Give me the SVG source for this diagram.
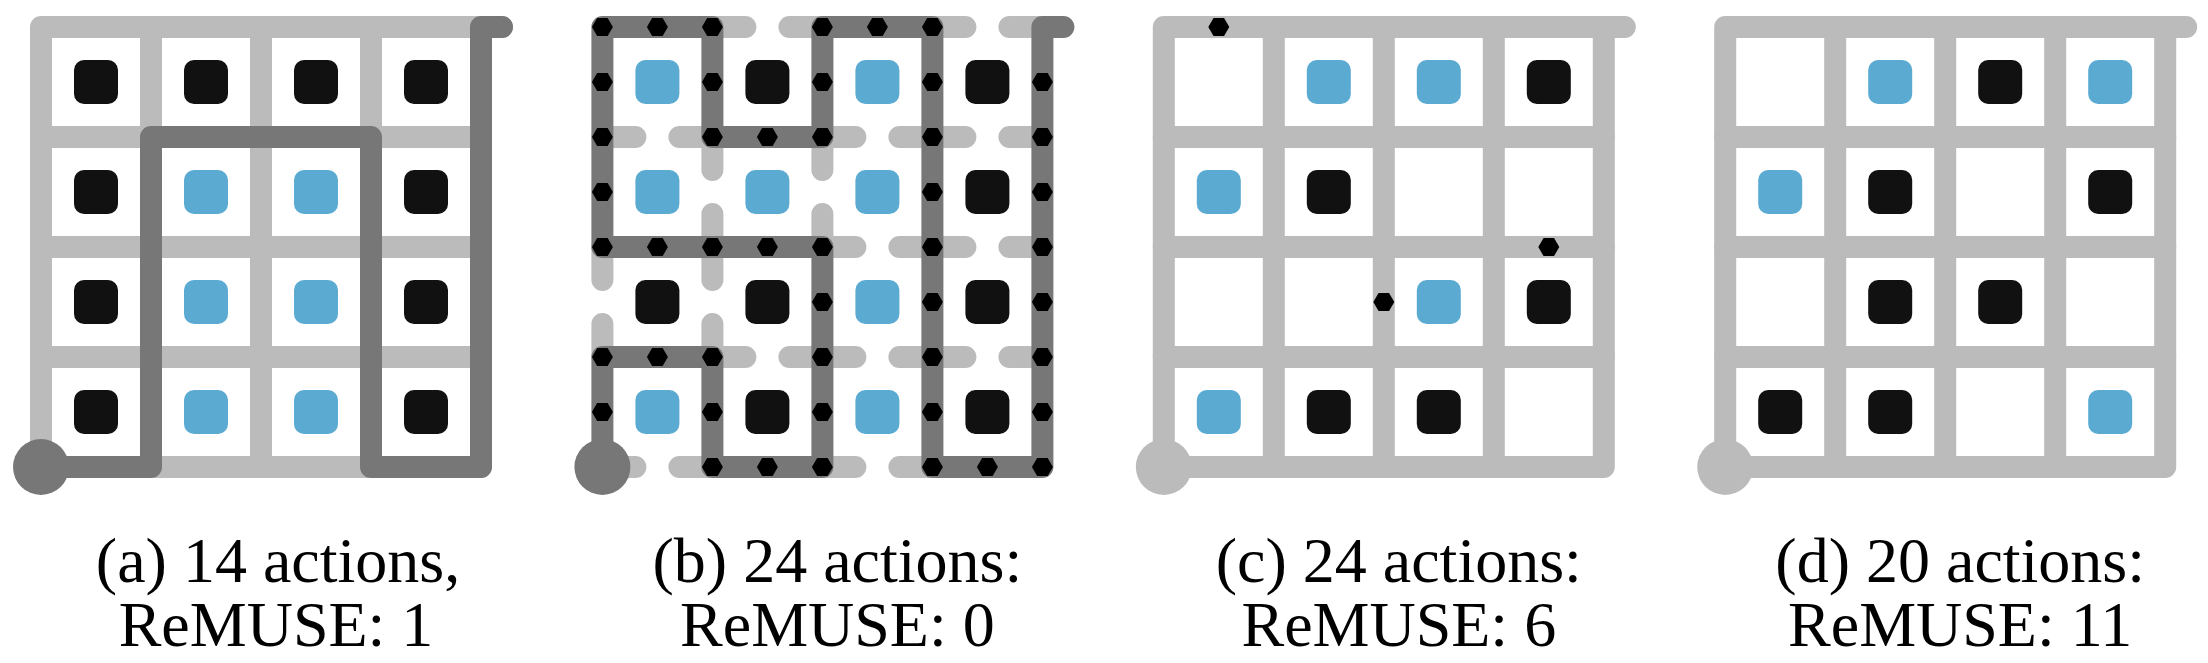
<svg xmlns="http://www.w3.org/2000/svg" xmlns:xlink="http://www.w3.org/1999/xlink" width="2208" height="663" viewBox="0 0 2208 663">
<style>
.grid{stroke:#bbbbbb;stroke-width:22;fill:none;stroke-linejoin:round;stroke-linecap:round}
.stub{stroke:#bbbbbb;stroke-width:22;fill:none;stroke-linecap:round}
.path{stroke:#777777;stroke-width:22;fill:none;stroke-linejoin:round;stroke-linecap:round}
.b{fill:#111111}
.l{fill:#5baad2}
.hex{fill:#000000}
.start-dark{fill:#777777}
.start-light{fill:#bbbbbb}
text{font-family:"Liberation Serif","Times New Roman",serif;font-size:64px;text-anchor:middle;fill:#000000}
</style>
<defs>
<path id="hx" class="hex" d="M-10.5,0 L-5.25,-9.1 L5.25,-9.1 L10.5,0 L5.25,9.1 L-5.25,9.1Z"/>
<rect id="B" class="b" x="-22" y="-22" width="44" height="44" rx="10"/>
<rect id="L" class="l" x="-22" y="-22" width="44" height="44" rx="10"/>
<g id="fullgrid">
<path class="grid" d="M502,27 L41,27 L41,467 L481,467 L481,27"/>
<path class="grid" d="M151,27V467 M261,27V467 M371,27V467 M41,137H481 M41,247H481 M41,357H481"/>
</g>
</defs>
<rect x="0" y="0" width="2208" height="663" fill="#ffffff"/>

<!-- Panel (a) -->
<g id="panel-a">
<use xlink:href="#fullgrid"/>
<g id="a-cells">
<use xlink:href="#B" x="96" y="82"/><use xlink:href="#B" x="206" y="82"/><use xlink:href="#B" x="316" y="82"/><use xlink:href="#B" x="426" y="82"/>
<use xlink:href="#B" x="96" y="192"/><use xlink:href="#L" x="206" y="192"/><use xlink:href="#L" x="316" y="192"/><use xlink:href="#B" x="426" y="192"/>
<use xlink:href="#B" x="96" y="302"/><use xlink:href="#L" x="206" y="302"/><use xlink:href="#L" x="316" y="302"/><use xlink:href="#B" x="426" y="302"/>
<use xlink:href="#B" x="96" y="412"/><use xlink:href="#L" x="206" y="412"/><use xlink:href="#L" x="316" y="412"/><use xlink:href="#B" x="426" y="412"/>
</g>
<g id="a-connectors">
<path class="path" d="M41,467 H151 V137 H371 V467 H481 V27 H502"/>
</g>
<circle id="a-start" class="start-dark" cx="41" cy="467" r="28"/>
<text x="278" y="582">(a) 14 actions,</text>
<text x="276" y="646">ReMUSE: 1</text>
</g>

<!-- Panel (b) -->
<g id="panel-b" transform="translate(561.4,0)">
<g id="b-stubs">
<path class="stub" d="M151,27h33 M261,27h-33 M371,27h33 M481,27h-33
M41,137h33 M151,137h-33 M261,137h33 M371,137h-33 M371,137h33 M481,137h-33
M261,247h33 M371,247h-33 M371,247h33 M481,247h-33
M151,357h33 M261,357h-33 M261,357h33 M371,357h-33 M371,357h33 M481,357h-33
M41,467h33 M151,467h-33 M261,467h33 M371,467h-33
M151,137v33 M151,247v-33 M261,137v33 M261,247v-33
M41,247v33 M41,357v-33 M151,247v33 M151,357v-33"/>
</g>
<g id="b-cells">
<use xlink:href="#L" x="96" y="82"/><use xlink:href="#B" x="206" y="82"/><use xlink:href="#L" x="316" y="82"/><use xlink:href="#B" x="426" y="82"/>
<use xlink:href="#L" x="96" y="192"/><use xlink:href="#L" x="206" y="192"/><use xlink:href="#L" x="316" y="192"/><use xlink:href="#B" x="426" y="192"/>
<use xlink:href="#B" x="96" y="302"/><use xlink:href="#B" x="206" y="302"/><use xlink:href="#L" x="316" y="302"/><use xlink:href="#B" x="426" y="302"/>
<use xlink:href="#L" x="96" y="412"/><use xlink:href="#B" x="206" y="412"/><use xlink:href="#L" x="316" y="412"/><use xlink:href="#B" x="426" y="412"/>
</g>
<g id="b-connectors">
<path class="path" d="M41,467 V357 H151 V467 H261 V247 H41 V27 H151 V137 H261 V27 H371 V467 H481 V27 H502"/>
</g>
<g id="b-marks">
<use xlink:href="#hx" x="41" y="412"/><use xlink:href="#hx" x="41" y="357"/>
<use xlink:href="#hx" x="96" y="357"/><use xlink:href="#hx" x="151" y="357"/>
<use xlink:href="#hx" x="151" y="412"/><use xlink:href="#hx" x="151" y="467"/>
<use xlink:href="#hx" x="206" y="467"/><use xlink:href="#hx" x="261" y="467"/>
<use xlink:href="#hx" x="261" y="412"/><use xlink:href="#hx" x="261" y="357"/><use xlink:href="#hx" x="261" y="302"/><use xlink:href="#hx" x="261" y="247"/>
<use xlink:href="#hx" x="206" y="247"/><use xlink:href="#hx" x="151" y="247"/><use xlink:href="#hx" x="96" y="247"/><use xlink:href="#hx" x="41" y="247"/>
<use xlink:href="#hx" x="41" y="192"/><use xlink:href="#hx" x="41" y="137"/><use xlink:href="#hx" x="41" y="82"/><use xlink:href="#hx" x="41" y="27"/>
<use xlink:href="#hx" x="96" y="27"/><use xlink:href="#hx" x="151" y="27"/>
<use xlink:href="#hx" x="151" y="82"/><use xlink:href="#hx" x="151" y="137"/>
<use xlink:href="#hx" x="206" y="137"/><use xlink:href="#hx" x="261" y="137"/>
<use xlink:href="#hx" x="261" y="82"/><use xlink:href="#hx" x="261" y="27"/>
<use xlink:href="#hx" x="316" y="27"/><use xlink:href="#hx" x="371" y="27"/>
<use xlink:href="#hx" x="371" y="82"/><use xlink:href="#hx" x="371" y="137"/><use xlink:href="#hx" x="371" y="192"/><use xlink:href="#hx" x="371" y="247"/>
<use xlink:href="#hx" x="371" y="302"/><use xlink:href="#hx" x="371" y="357"/><use xlink:href="#hx" x="371" y="412"/><use xlink:href="#hx" x="371" y="467"/>
<use xlink:href="#hx" x="426" y="467"/><use xlink:href="#hx" x="481" y="467"/>
<use xlink:href="#hx" x="481" y="412"/><use xlink:href="#hx" x="481" y="357"/><use xlink:href="#hx" x="481" y="302"/><use xlink:href="#hx" x="481" y="247"/>
<use xlink:href="#hx" x="481" y="192"/><use xlink:href="#hx" x="481" y="137"/><use xlink:href="#hx" x="481" y="82"/>
</g>
<circle id="b-start" class="start-dark" cx="41" cy="467" r="28"/>
<text x="276" y="582">(b) 24 actions:</text>
<text x="276" y="646">ReMUSE: 0</text>
</g>

<!-- Panel (c) -->
<g id="panel-c" transform="translate(1122.8,0)">
<use xlink:href="#fullgrid"/>
<g id="c-cells">
<use xlink:href="#L" x="206" y="82"/><use xlink:href="#L" x="316" y="82"/><use xlink:href="#B" x="426" y="82"/>
<use xlink:href="#L" x="96" y="192"/><use xlink:href="#B" x="206" y="192"/>
<use xlink:href="#L" x="316" y="302"/><use xlink:href="#B" x="426" y="302"/>
<use xlink:href="#L" x="96" y="412"/><use xlink:href="#B" x="206" y="412"/><use xlink:href="#B" x="316" y="412"/>
</g>
<g id="c-marks">
<use xlink:href="#hx" x="96" y="27"/><use xlink:href="#hx" x="426" y="247"/><use xlink:href="#hx" x="261" y="302"/>
</g>
<circle id="c-start" class="start-light" cx="41" cy="467" r="28"/>
<text x="276" y="582">(c) 24 actions:</text>
<text x="276" y="646">ReMUSE: 6</text>
</g>

<!-- Panel (d) -->
<g id="panel-d" transform="translate(1684.2,0)">
<use xlink:href="#fullgrid"/>
<g id="d-cells">
<use xlink:href="#L" x="206" y="82"/><use xlink:href="#B" x="316" y="82"/><use xlink:href="#L" x="426" y="82"/>
<use xlink:href="#L" x="96" y="192"/><use xlink:href="#B" x="206" y="192"/><use xlink:href="#B" x="426" y="192"/>
<use xlink:href="#B" x="206" y="302"/><use xlink:href="#B" x="316" y="302"/>
<use xlink:href="#B" x="96" y="412"/><use xlink:href="#B" x="206" y="412"/><use xlink:href="#L" x="426" y="412"/>
</g>
<circle id="d-start" class="start-light" cx="41" cy="467" r="28"/>
<text x="276" y="582">(d) 20 actions:</text>
<text x="276" y="646">ReMUSE: 11</text>
</g>
</svg>
